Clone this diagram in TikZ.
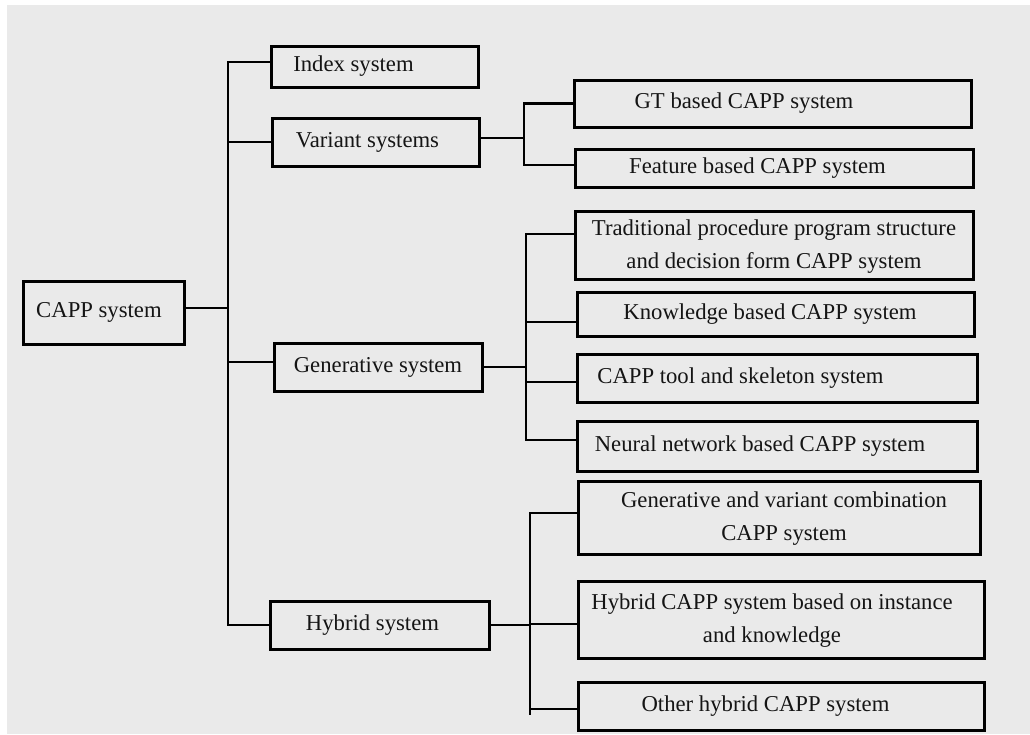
\documentclass[tikz,border=0pt]{standalone}
\usepackage{fontspec}
\setmainfont{Liberation Serif}
\definecolor{bg}{HTML}{EAEAEA}
\definecolor{ink}{HTML}{151515}
\newcommand\shiftedtext[2]{\makebox[0pt]{\hspace*{#1}#2}}
\newcommand\twolines[2]{\begin{tabular}{@{}c@{}}#1\\#2\end{tabular}}
\begin{document}
\begin{tikzpicture}[x=1pt,y=-1pt,
  box/.style={draw=black, line width=3pt, inner sep=0pt,
    font=\fontsize{22.7pt}{33pt}\selectfont, text=ink},
  conn/.style={draw=black, line width=2.7pt}]
\useasboundingbox (0,0) rectangle (1030,734);
\fill[white] (0,0) rectangle (1030,734);
\fill[bg] (7,5) rectangle (1030,734);

% level 0 and 1
\node[box, minimum width=161pt, minimum height=63pt] (capp) at (103.5,312.5) {\shiftedtext{-9pt}{CAPP system}};
\node[box, minimum width=207pt, minimum height=41pt] (index) at (374.5,66.5) {\shiftedtext{-42pt}{Index system}};
\node[box, minimum width=207pt, minimum height=48pt] (variant) at (375.5,142) {\shiftedtext{-16pt}{Variant systems}};
\node[box, minimum width=208pt, minimum height=48pt] (gen) at (378,367) {\shiftedtext{0pt}{Generative system}};
\node[box, minimum width=219pt, minimum height=48pt] (hybrid) at (379.5,625) {\shiftedtext{-14pt}{Hybrid system}};

% level 2
\node[box, minimum width=397pt, minimum height=47pt] (gt) at (772.5,103.5) {\shiftedtext{-57pt}{GT based CAPP system}};
\node[box, minimum width=398pt, minimum height=38pt] (feat) at (774,168) {\shiftedtext{-33pt}{Feature based CAPP system}};
\node[box, minimum width=398pt, minimum height=68pt] (trad) at (774,245) {\shiftedtext{0pt}{\twolines{Traditional procedure program structure}{and decision form CAPP system}}};
\node[box, minimum width=397pt, minimum height=44pt] (know) at (775.5,314) {\shiftedtext{-11pt}{Knowledge based CAPP system}};
\node[box, minimum width=400pt, minimum height=48pt] (tool) at (777,378) {\shiftedtext{-73pt}{CAPP tool and skeleton system}};
\node[box, minimum width=400pt, minimum height=50pt] (neural) at (777,446) {\shiftedtext{-34pt}{Neural network based CAPP system}};
\node[box, minimum width=402pt, minimum height=73pt] (genvar) at (779,517.5) {\shiftedtext{10pt}{\twolines{Generative and variant combination}{CAPP system}}};
\node[box, minimum width=406pt, minimum height=77pt] (hybinst) at (781,619.5) {\shiftedtext{-18pt}{\twolines{Hybrid CAPP system based on instance}{and knowledge}}};
\node[box, minimum width=406pt, minimum height=48pt] (other) at (781,706) {\shiftedtext{-31pt}{Other hybrid CAPP system}};

% junction coordinates
\coordinate (T) at (228,308);
\coordinate (V) at (524,138);
\coordinate (G) at (526,367);
\coordinate (H) at (530,624);
\coordinate (Hend) at (530,715);

% trunk
\draw[conn] ([yshift=4.5pt]capp.east) -- (T);
\draw[conn] ([yshift=4.5pt]index.west) -- ([yshift=4.5pt]index.west -| T) -- (hybrid.west -| T) -- (hybrid.west);
\draw[conn] (variant.west) -- (variant.west -| T);
\draw[conn] ([yshift=5pt]gen.west) -- ([yshift=5pt]gen.west -| T);

% variant branch
\draw[conn] ([yshift=4pt]variant.east) -- (V);
\draw[conn] (gt.west) -| ([yshift=3pt]feat.west -| V) -- ([yshift=3pt]feat.west);

% generative branch
\draw[conn] (gen.east) -- (G);
\draw[conn] ([yshift=11pt]trad.west) -| ([yshift=6pt]neural.west -| G) -- ([yshift=6pt]neural.west);
\draw[conn] ([yshift=-8pt]know.west) -- ([yshift=-8pt]know.west -| G);
\draw[conn] ([yshift=-4pt]tool.west) -- ([yshift=-4pt]tool.west -| G);

% hybrid branch
\draw[conn] (hybrid.east) -- (hybrid.east -| H);
\draw[conn] ([yshift=4.5pt]genvar.west) -| (Hend);
\draw[conn] ([yshift=-4.5pt]hybinst.west) -- ([yshift=-4.5pt]hybinst.west -| H);
\draw[conn] ([yshift=-3pt]other.west) -- ([yshift=-3pt]other.west -| H);
\end{tikzpicture}
\end{document}
